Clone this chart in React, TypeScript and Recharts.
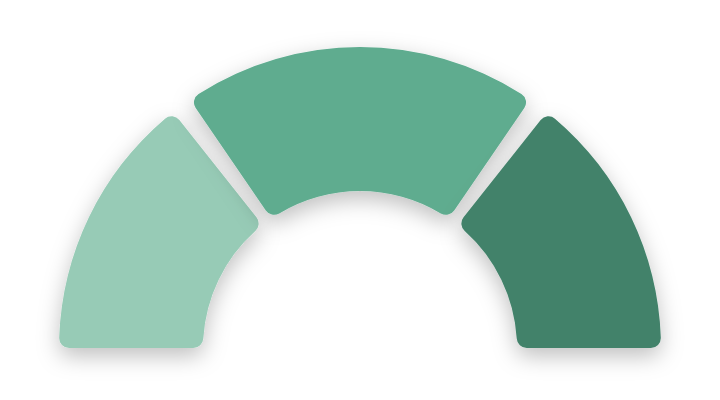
import { PieChart, Pie, Cell } from 'recharts';

const segments = ['Low', 'Medium', 'High'];
const values = [30, 40, 30];
const colors = ['#97cbb6', '#5eac8f', '#43826b'];

const data = segments.map((name, i) => ({ name, value: values[i] }));

export default function App() {
	return (
		<div style={{ position: 'absolute', left: 0, top: 0 }}>
			<PieChart width={720} height={400} margin={{ top: 0, right: 0, bottom: 0, left: 0 }}>
				<defs>
					<filter id="gaugeShadow" x="-20%" y="-20%" width="140%" height="150%">
						<feDropShadow dx="0" dy="8" stdDeviation="11" floodColor="#000" floodOpacity="0.25" />
					</filter>
				</defs>
				<Pie
					data={data}
					dataKey="value"
					nameKey="name"
					cx={360}
					cy={348}
					startAngle={180}
					endAngle={0}
					innerRadius={157}
					outerRadius={301}
					paddingAngle={4}
					cornerRadius={10}
					stroke="none"
					isAnimationActive={false}
				>
					{data.map((d, i) => (
						<Cell key={d.name} fill={colors[i]} style={{ filter: 'url(#gaugeShadow)' }} />
					))}
				</Pie>
			</PieChart>
		</div>
	);
}
